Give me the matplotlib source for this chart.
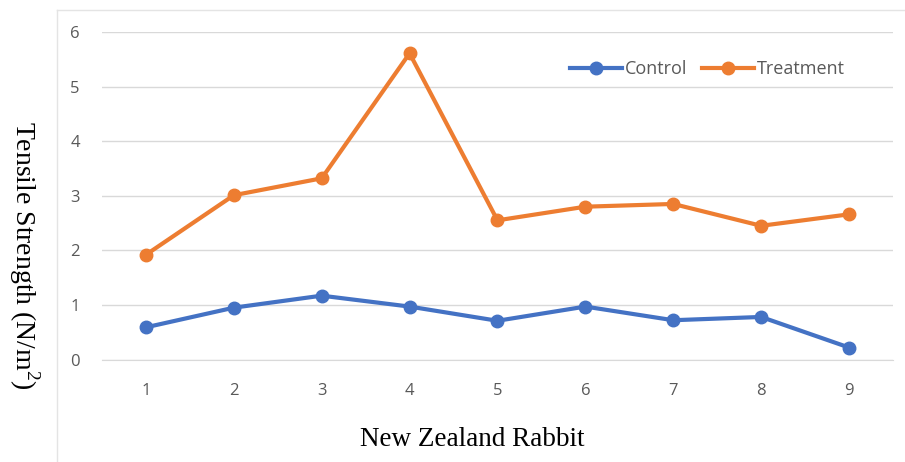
import matplotlib
matplotlib.use("Agg")
import matplotlib.pyplot as plt
from matplotlib.lines import Line2D

# tensile strength per rabbit (N/m^2)
rabbits = [1, 2, 3, 4, 5, 6, 7, 8, 9]
control = [0.59, 0.95, 1.17, 0.97, 0.71, 0.97, 0.72, 0.78, 0.22]
treatment = [1.92, 3.01, 3.32, 5.61, 2.55, 2.80, 2.85, 2.45, 2.66]
yticks = [0, 1, 2, 3, 4, 5, 6]

BLUE = "#4472C4"
ORANGE = "#ED7D31"
GRID = "#D9D9D9"
TICK = "#595959"

plt.rcParams["mathtext.fontset"] = "custom"
plt.rcParams["mathtext.rm"] = "Liberation Serif"

fig = plt.figure(figsize=(9.05, 4.62), dpi=100)
ax = fig.add_axes([0.1127, 0.2218, 0.874, 0.7089])

# outer chart frame (left and top edges only)
fig.add_artist(Line2D([57 / 905, 57 / 905], [0, 1 - 10 / 462], color="#E4E4E4", lw=1))
fig.add_artist(Line2D([57 / 905, 1], [1 - 10 / 462, 1 - 10 / 462], color="#E4E4E4", lw=1))

ax.plot(rabbits, control, color=BLUE, lw=3, marker="o", ms=9, label="Control")
ax.plot(rabbits, treatment, color=ORANGE, lw=3, marker="o", ms=9, label="Treatment")

ax.set_xlim(0.5, 9.5)
ax.set_ylim(0, 6)
ax.set_xticks(rabbits)
ax.set_yticks(yticks)
ax.grid(axis="y", color=GRID, lw=1)
ax.set_axisbelow(True)
for side in ["top", "right", "left"]:
    ax.spines[side].set_visible(False)
ax.spines["bottom"].set_color(GRID)
ax.tick_params(length=0, labelsize=12, labelcolor=TICK)
ax.tick_params(axis="x", pad=17)
ax.tick_params(axis="y", pad=16)
for t in ax.get_xticklabels() + ax.get_yticklabels():
    t.set_family("Open Sans")

fig.text(472 / 905, 1 - 440 / 462, "New Zealand Rabbit", family="Liberation Serif",
         fontsize=19.5, ha="center", va="center")
fig.text(24 / 905, 1 - 255 / 462, r"Tensile Strength (N/m$^{\mathrm{2}}$)",
         family="Liberation Serif", fontsize=20, rotation=270, ha="center", va="center")

leg = ax.legend(loc="center right", bbox_to_anchor=(845 / 905, 1 - 69 / 462),
                bbox_transform=fig.transFigure, ncol=2, frameon=False,
                handlelength=2.9, handletextpad=0.15, columnspacing=0.8,
                borderaxespad=0, borderpad=0,
                prop={"family": "Open Sans", "size": 13})
for t in leg.get_texts():
    t.set_color(TICK)

fig.savefig("out.png", dpi=100)
